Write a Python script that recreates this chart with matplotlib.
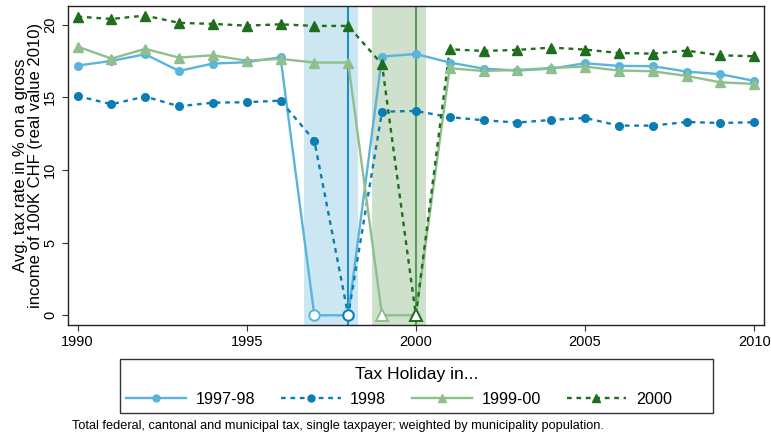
import matplotlib
matplotlib.use("Agg")
import matplotlib.pyplot as plt
import numpy as np
from matplotlib.lines import Line2D
from matplotlib.patches import Rectangle

plt.rcParams['font.family'] = ['Liberation Sans', 'DejaVu Sans']

years = list(range(1990, 2011))
holiday_1997_98 = [17.18, 17.50, 17.96, 16.81, 17.32, 17.41, 17.76, 0.0, 0.0, 17.80, 17.98,
                   17.39, 16.97, 16.84, 16.97, 17.34, 17.16, 17.14, 16.77, 16.59, 16.13]
holiday_1998 = [15.09, 14.52, 15.05, 14.38, 14.63, 14.66, 14.77, 12.02, 0.0, 14.01, 14.06,
                13.63, 13.42, 13.26, 13.44, 13.58, 13.05, 13.05, 13.30, 13.23, 13.28]
holiday_1999_00 = [18.49, 17.66, 18.33, 17.73, 17.89, 17.52, 17.64, 17.39, 17.39, 0.0, 0.0,
                   17.00, 16.81, 16.88, 17.02, 17.11, 16.84, 16.79, 16.47, 16.03, 15.92]
holiday_2000 = [20.55, 20.39, 20.62, 20.12, 20.05, 19.93, 20.02, 19.91, 19.91, 17.27, 0.0,
                18.30, 18.19, 18.26, 18.42, 18.28, 18.05, 18.00, 18.21, 17.89, 17.82]
series_labels = ["1997-98", "1998", "1999-00", "2000"]
x_ticks = [1990, 1995, 2000, 2005, 2010]
y_ticks = [0, 5, 10, 15, 20]
span_blue = (1996.7, 1998.3)
span_green = (1998.7, 2000.3)
vline_blue = 1998
vline_green = 2000

fig = plt.figure(figsize=(7.71, 4.33), dpi=100)
ax = fig.add_axes([0.0878, 0.2494, 0.9031, 0.7374])

ax.axvspan(*span_blue, color='#CCE6F2', zorder=0, lw=0)
ax.axvspan(*span_green, color='#CFE0CD', zorder=0, lw=0)
ax.axvline(vline_blue, color='#1E8FC8', lw=1.5, zorder=1)
ax.axvline(vline_green, color='#5A9E5A', lw=1.5, zorder=1)

specs = [
    (holiday_1997_98, '#5AB4DC', '-', 'o', 5.5),
    (holiday_1998, '#0A7DB4', (0, (2, 2)), 'o', 5.5),
    (holiday_1999_00, '#8FBF8C', '-', '^', 6.5),
    (holiday_2000, '#1E6E1E', (0, (2, 2)), '^', 6.5),
]
yrs = np.array(years)
handles = []
for (vals, col, ls, mk, ms), lab in zip(specs, series_labels):
    v = np.array(vals)
    ax.plot(yrs, v, color=col, ls=ls, lw=1.7, zorder=3)
    nz = v != 0
    ax.plot(yrs[nz], v[nz], ls='none', marker=mk, ms=ms, color=col, mec=col, zorder=4)
    ax.plot(yrs[~nz], v[~nz], ls='none', marker=mk, ms=ms + 2, mfc='white', mec=col,
            mew=1.4, zorder=5)
    handles.append(Line2D([0], [0], color=col, ls=ls, lw=1.7, marker=mk, ms=ms - 0.5, label=lab))

ax.set_xlim(1989.71, 2010.29)
ax.set_ylim(-0.67, 21.3)
ax.set_xticks(x_ticks)
ax.set_yticks(y_ticks)
ax.tick_params(axis='both', labelsize=10.5, length=4, color='#333333')
for lbl in ax.get_yticklabels():
    lbl.set_rotation(90)
    lbl.set_va('center')
ax.set_ylabel("Avg. tax rate in % on a gross\nincome of 100K CHF (real value 2010)",
              fontsize=12, linespacing=1.05, labelpad=0)
for s in ax.spines.values():
    s.set_color('#222222')
    s.set_linewidth(1.0)

# legend frame, title and entries
W, H = 771.0, 433.0
fig.patches.append(Rectangle((120 / W, 1 - 413 / H), (713 - 120) / W, (413 - 359) / H,
                             transform=fig.transFigure, fill=False, edgecolor='#333333',
                             lw=1.0, zorder=5))
fig.text(416.5 / W, 1 - 375 / H, "Tax Holiday in...", fontsize=12.5, ha='center', va='center')
leg = fig.legend(handles=handles, loc='center', bbox_to_anchor=(399 / W, 1 - 399.5 / H),
                 ncol=4, fontsize=11.6, frameon=False, handlelength=3.7,
                 columnspacing=1.6, handletextpad=0.6, borderpad=0.2)

fig.text(0.0934, 1 - 426 / H, "Total federal, cantonal and municipal tax, single taxpayer; weighted by municipality population.",
         fontsize=9.2, ha='left', va='center')

fig.savefig("out.png", dpi=100)
